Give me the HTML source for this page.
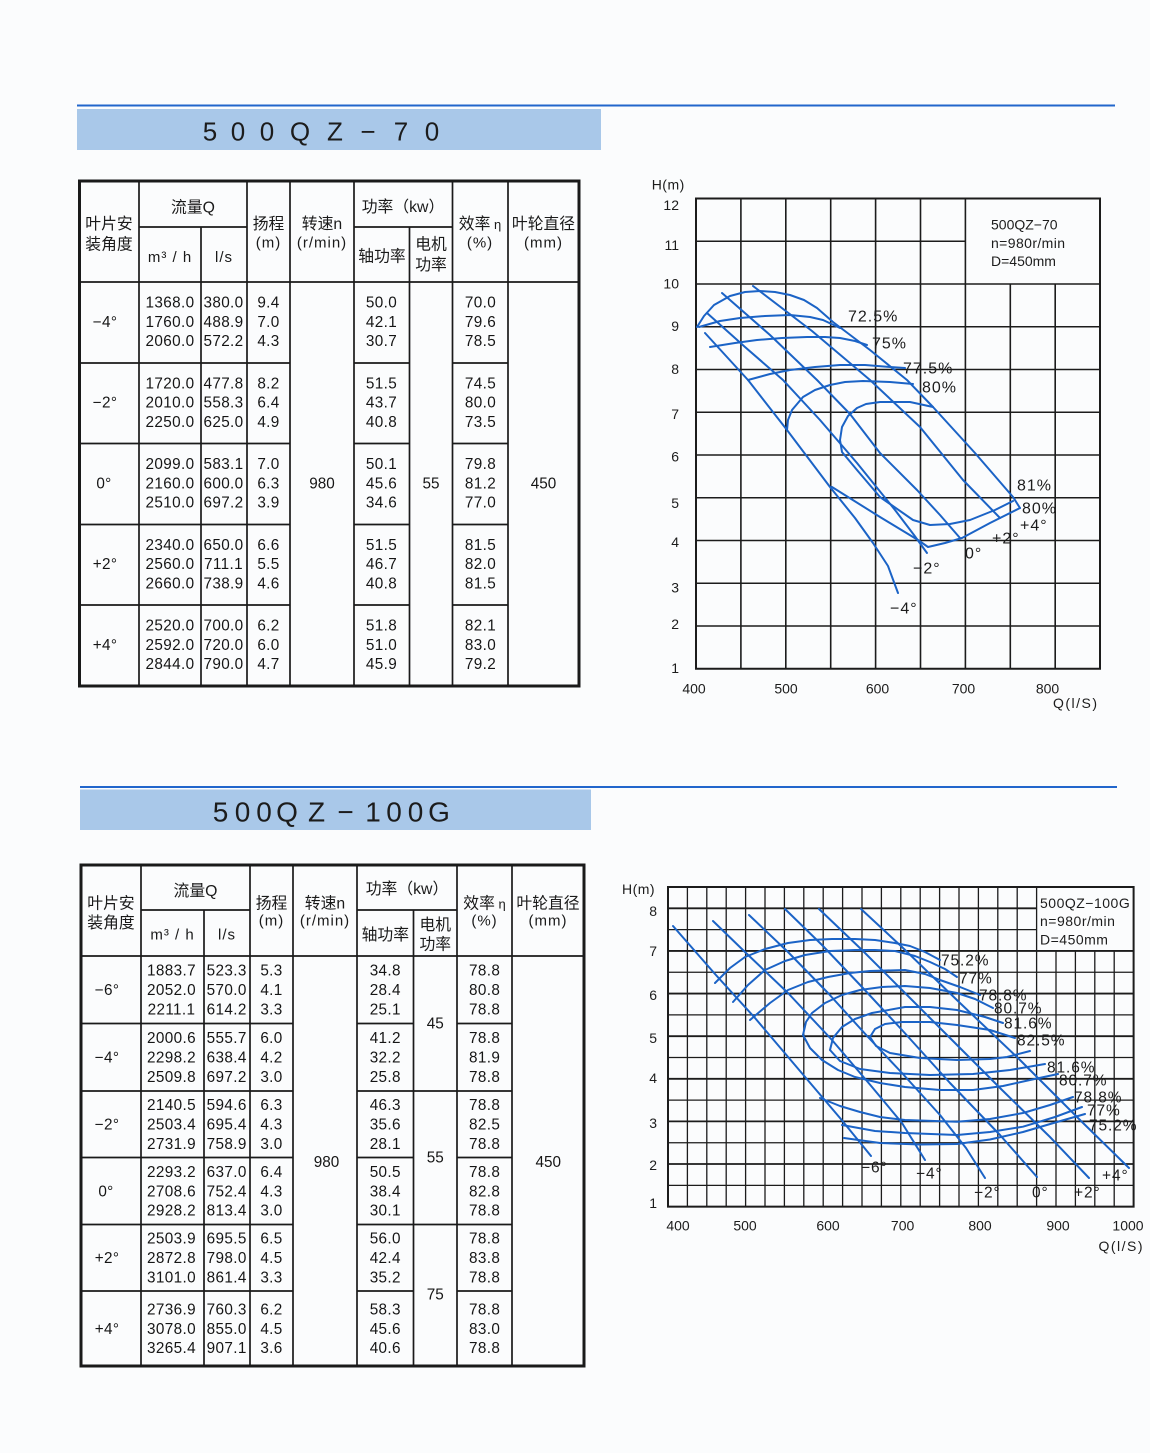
<!DOCTYPE html>
<html>
<head>
<meta charset="utf-8">
<style>
html,body{margin:0;padding:0;background:#fbfcfd;}
svg{display:block;}
.cjk{font-family:"Liberation Sans","Noto Sans CJK SC",sans-serif;}
.lat{font-family:"Liberation Sans",sans-serif;}
</style>
</head>
<body>
<svg width="1150" height="1453" viewBox="0 0 1150 1453" xmlns="http://www.w3.org/2000/svg">
<rect width="1150" height="1453" fill="#fbfcfd"/>

<!-- ===== Section 1 header ===== -->
<line x1="77" y1="105.5" x2="1115" y2="105.5" stroke="#2266cc" stroke-width="2"/>
<rect x="77" y="109" width="524" height="41" fill="#a9c8e9"/>
<g class="lat" font-size="26" fill="#1c1c1c" text-anchor="middle">
<text x="210" y="140.5">5</text><text x="238" y="140.5">0</text><text x="267" y="140.5">0</text>
<text x="300" y="140.5">Q</text><text x="335" y="140.5">Z</text><text x="368" y="140.5">−</text>
<text x="401" y="140.5">7</text><text x="432" y="140.5">0</text>
</g>

<!-- ===== Table 1 ===== -->
<rect x="79.5" y="181" width="499.5" height="505" fill="none" stroke="#1a1a1a" stroke-width="3"/>
<path fill="none" stroke="#1a1a1a" stroke-width="1.7" d="
M139,181V686 M201,227V686 M247,181V686 M290,181V686 M354,181V686 M409.5,227V686 M452.5,181V686 M508,181V686
M139,227H247 M354,227H452.5 M79.5,282H579
M79.5,363H290 M354,363H409.5 M452.5,363H508
M79.5,443.5H290 M354,443.5H409.5 M452.5,443.5H508
M79.5,524.5H290 M354,524.5H409.5 M452.5,524.5H508
M79.5,605H290 M354,605H409.5 M452.5,605H508"/>

<g class="cjk" font-size="15.8" fill="#1a1a1a" text-anchor="middle">
<text x="109" y="229">叶片安</text><text x="109" y="249.5">装角度</text>
<text x="193" y="212.5">流量Q</text>
<text x="268.5" y="229">扬程</text>
<text x="322" y="229">转速n</text>
<text x="403" y="212">功率（kw）</text>
<text x="382" y="261.5">轴功率</text>
<text x="431" y="249.5">电机</text><text x="431" y="270">功率</text>
<text x="480" y="229">效率<tspan font-size="13"> η</tspan></text>
<text x="543.5" y="229">叶轮直径</text>
</g>
<g class="lat" font-size="15" fill="#1a1a1a" text-anchor="middle" letter-spacing="1">
<text x="268.5" y="247.5">(m)</text>
<text x="322" y="247.5">(r/min)</text>
<text x="480" y="247.5">(%)</text>
<text x="543.5" y="247.5">(mm)</text>
<text x="170" y="262">m³ / h</text>
<text x="224" y="262">l/s</text>
</g>

<g class="lat" font-size="15.3" fill="#151515" text-anchor="middle" letter-spacing="0.35">
<text x="105" y="326.9">−4°</text>
<text x="105" y="407.6">−2°</text>
<text x="104" y="488.4">0°</text>
<text x="105" y="569.2">+2°</text>
<text x="105" y="649.9">+4°</text>
<text y="307.6"><tspan x="170">1368.0</tspan><tspan x="170" dy="19.3">1760.0</tspan><tspan x="170" dy="19.3">2060.0</tspan></text>
<text y="388.4"><tspan x="170">1720.0</tspan><tspan x="170" dy="19.3">2010.0</tspan><tspan x="170" dy="19.3">2250.0</tspan></text>
<text y="469.1"><tspan x="170">2099.0</tspan><tspan x="170" dy="19.3">2160.0</tspan><tspan x="170" dy="19.3">2510.0</tspan></text>
<text y="549.9"><tspan x="170">2340.0</tspan><tspan x="170" dy="19.3">2560.0</tspan><tspan x="170" dy="19.3">2660.0</tspan></text>
<text y="630.6"><tspan x="170">2520.0</tspan><tspan x="170" dy="19.3">2592.0</tspan><tspan x="170" dy="19.3">2844.0</tspan></text>
<text y="307.6"><tspan x="223.5">380.0</tspan><tspan x="223.5" dy="19.3">488.9</tspan><tspan x="223.5" dy="19.3">572.2</tspan></text>
<text y="388.4"><tspan x="223.5">477.8</tspan><tspan x="223.5" dy="19.3">558.3</tspan><tspan x="223.5" dy="19.3">625.0</tspan></text>
<text y="469.1"><tspan x="223.5">583.1</tspan><tspan x="223.5" dy="19.3">600.0</tspan><tspan x="223.5" dy="19.3">697.2</tspan></text>
<text y="549.9"><tspan x="223.5">650.0</tspan><tspan x="223.5" dy="19.3">711.1</tspan><tspan x="223.5" dy="19.3">738.9</tspan></text>
<text y="630.6"><tspan x="223.5">700.0</tspan><tspan x="223.5" dy="19.3">720.0</tspan><tspan x="223.5" dy="19.3">790.0</tspan></text>
<text y="307.6"><tspan x="268.5">9.4</tspan><tspan x="268.5" dy="19.3">7.0</tspan><tspan x="268.5" dy="19.3">4.3</tspan></text>
<text y="388.4"><tspan x="268.5">8.2</tspan><tspan x="268.5" dy="19.3">6.4</tspan><tspan x="268.5" dy="19.3">4.9</tspan></text>
<text y="469.1"><tspan x="268.5">7.0</tspan><tspan x="268.5" dy="19.3">6.3</tspan><tspan x="268.5" dy="19.3">3.9</tspan></text>
<text y="549.9"><tspan x="268.5">6.6</tspan><tspan x="268.5" dy="19.3">5.5</tspan><tspan x="268.5" dy="19.3">4.6</tspan></text>
<text y="630.6"><tspan x="268.5">6.2</tspan><tspan x="268.5" dy="19.3">6.0</tspan><tspan x="268.5" dy="19.3">4.7</tspan></text>
<text y="307.6"><tspan x="381.5">50.0</tspan><tspan x="381.5" dy="19.3">42.1</tspan><tspan x="381.5" dy="19.3">30.7</tspan></text>
<text y="388.4"><tspan x="381.5">51.5</tspan><tspan x="381.5" dy="19.3">43.7</tspan><tspan x="381.5" dy="19.3">40.8</tspan></text>
<text y="469.1"><tspan x="381.5">50.1</tspan><tspan x="381.5" dy="19.3">45.6</tspan><tspan x="381.5" dy="19.3">34.6</tspan></text>
<text y="549.9"><tspan x="381.5">51.5</tspan><tspan x="381.5" dy="19.3">46.7</tspan><tspan x="381.5" dy="19.3">40.8</tspan></text>
<text y="630.6"><tspan x="381.5">51.8</tspan><tspan x="381.5" dy="19.3">51.0</tspan><tspan x="381.5" dy="19.3">45.9</tspan></text>
<text y="307.6"><tspan x="480.5">70.0</tspan><tspan x="480.5" dy="19.3">79.6</tspan><tspan x="480.5" dy="19.3">78.5</tspan></text>
<text y="388.4"><tspan x="480.5">74.5</tspan><tspan x="480.5" dy="19.3">80.0</tspan><tspan x="480.5" dy="19.3">73.5</tspan></text>
<text y="469.1"><tspan x="480.5">79.8</tspan><tspan x="480.5" dy="19.3">81.2</tspan><tspan x="480.5" dy="19.3">77.0</tspan></text>
<text y="549.9"><tspan x="480.5">81.5</tspan><tspan x="480.5" dy="19.3">82.0</tspan><tspan x="480.5" dy="19.3">81.5</tspan></text>
<text y="630.6"><tspan x="480.5">82.1</tspan><tspan x="480.5" dy="19.3">83.0</tspan><tspan x="480.5" dy="19.3">79.2</tspan></text>
<text x="322" y="488.7" letter-spacing="0">980</text>
<text x="431" y="488.7" letter-spacing="0">55</text>
<text x="543.5" y="488.7" letter-spacing="0">450</text>
</g>

<!-- ===== Chart 1 ===== -->
<g fill="none" stroke="#1c1c1c">
<rect x="696" y="198.5" width="404" height="470.25" stroke-width="2"/>
<path stroke-width="1.6" d="M740.9,198.5V668.75 M785.8,198.5V668.75 M830.7,198.5V668.75 M875.6,198.5V668.75 M920.5,198.5V668.75 M965.4,198.5V668.75 M1010.3,284V668.75 M1055.2,284V668.75
M696,241.25H965.4 M696,284H1100 M696,326.75H1100 M696,369.5H1100 M696,412.25H1100 M696,455H1100 M696,497.75H1100 M696,540.5H1100 M696,583.25H1100 M696,626H1100"/>
</g>
<g fill="none" stroke="#1b63c6" stroke-width="2" stroke-linejoin="round" stroke-linecap="round">
<polyline points="705,333 748,380 787,430 830,487 855,518 873,543 888,566 898,593"/>
<polyline points="707,313 745,347 783,380 820,420 857,463 895,510 914,535 927,553"/>
<polyline points="722,293 770,335 817,380 850,414 880,453 917,490 940,515 960,538"/>
<polyline points="753,286 812,331 870,380 920,427 963,480 1000,518"/>
<polyline points="697,327 704,316 714,305 730,296 745,292 760,291 775,292 790,295 804,300 817,308 833,322 870,350 907,380 933,407 975,453 1013,497 1020,508"/>
<polyline points="1020,508 990,523 962,538 945,543 928,547 918,540 880,517 832,487"/>
<polyline points="699,327 720,321 740,318 765,316 790,315 810,317 823,320 840,328"/>
<polyline points="710,347 735,343 757,340 782,338 807,337 825,337 840,338 855,341 867,345"/>
<polyline points="748,380 770,374 790,370 815,367 840,365 865,365 890,367 905,368"/>
<polyline points="787,430 788,420 792,410 803,397 815,390 830,385 845,382 863,381 890,382 913,384"/>
<polyline points="933,407 910,402 880,402 866,404 857,408 848,416 842,427 840,440 842,452 857,470 880,497 913,520 930,525 950,524 970,520 995,510 1013,501"/>
</g>
<g class="lat" fill="#1c1c1c" font-size="14">
<text x="651.7" y="189.5" letter-spacing="0.5">H(m)</text>
<g text-anchor="end">
<text x="679" y="210">12</text><text x="679" y="250">11</text><text x="679" y="288.5">10</text>
<text x="679" y="331">9</text><text x="679" y="374">8</text><text x="679" y="419">7</text>
<text x="679" y="461.5">6</text><text x="679" y="508">5</text><text x="679" y="547">4</text>
<text x="679" y="592.5">3</text><text x="679" y="629">2</text><text x="679" y="673">1</text>
</g>
<g text-anchor="middle">
<text x="694" y="693.5">400</text><text x="786" y="693.5">500</text><text x="877.5" y="693.5">600</text>
<text x="963.5" y="693.5">700</text><text x="1047.5" y="693.5">800</text>
</g>
<text x="1053" y="708" letter-spacing="1.5">Q(l/S)</text>
<g font-size="14">
<text x="991" y="229.5">500QZ−70</text>
<text x="991" y="248" letter-spacing="0.4">n=980r/min</text>
<text x="991" y="266">D=450mm</text>
</g>
<g font-size="16" letter-spacing="1">
<text x="848" y="321.5">72.5%</text>
<text x="872" y="348.5">75%</text>
<text x="903" y="373.5">77.5%</text>
<text x="922" y="392.5">80%</text>
<text x="1017" y="490.5">81%</text>
<text x="1022" y="513.5">80%</text>
<text x="1020" y="530.5">+4°</text>
<text x="992" y="543.5">+2°</text>
<text x="965" y="558.5">0°</text>
<text x="913" y="573.5">−2°</text>
<text x="890" y="613.5">−4°</text>
</g>
</g>

<!-- ===== Section 2 header ===== -->
<line x1="80" y1="787" x2="1117" y2="787" stroke="#2266cc" stroke-width="2"/>
<rect x="80" y="789.5" width="511" height="40.5" fill="#a9c8e9"/>
<g class="lat" font-size="28" fill="#1c1c1c" text-anchor="middle">
<text x="220.5" y="821.5">5</text><text x="242.5" y="821.5">0</text><text x="264" y="821.5">0</text>
<text x="287" y="821.5">Q</text><text x="316.5" y="821.5">Z</text><text x="345.5" y="821.5">−</text>
<text x="373" y="821.5">1</text><text x="394" y="821.5">0</text><text x="415.5" y="821.5">0</text>
<text x="439" y="821.5">G</text>
</g>

<!-- ===== Table 2 ===== -->
<rect x="81" y="865" width="503" height="501" fill="none" stroke="#1a1a1a" stroke-width="3"/>
<path fill="none" stroke="#1a1a1a" stroke-width="1.7" d="
M141,865V1366 M204,910V1366 M250,865V1366 M293,865V1366 M357,865V1366 M413.5,910V1366 M457,865V1366 M512,865V1366
M141,910H250 M357,910H457 M81,956H584
M81,1023.5H293 M357,1023.5H413.5 M457,1023.5H512
M81,1091H293 M357,1091H512
M81,1157.5H293 M357,1157.5H413.5 M457,1157.5H512
M81,1224.5H293 M357,1224.5H512
M81,1291H293 M357,1291H413.5 M457,1291H512"/>

<g class="cjk" font-size="15.8" fill="#1a1a1a" text-anchor="middle">
<text x="111" y="908.5">叶片安</text><text x="111" y="928">装角度</text>
<text x="195.5" y="896">流量Q</text>
<text x="271.5" y="908.5">扬程</text>
<text x="325" y="908.5">转速n</text>
<text x="407" y="894">功率（kw）</text>
<text x="385.3" y="940">轴功率</text>
<text x="435.3" y="930">电机</text><text x="435.3" y="949.5">功率</text>
<text x="484.5" y="908.5">效率<tspan font-size="13"> η</tspan></text>
<text x="548" y="908.5">叶轮直径</text>
</g>
<g class="lat" font-size="15" fill="#1a1a1a" text-anchor="middle" letter-spacing="1">
<text x="271.5" y="925.5">(m)</text>
<text x="325" y="925.5">(r/min)</text>
<text x="484.5" y="925.5">(%)</text>
<text x="548" y="925.5">(mm)</text>
<text x="172.5" y="939.5">m³ / h</text>
<text x="227" y="939.5">l/s</text>
</g>

<g class="lat" font-size="15.3" fill="#151515" text-anchor="middle" letter-spacing="0.35">
<text x="107" y="995.2">−6°</text>
<text x="107" y="1062.7">−4°</text>
<text x="107" y="1129.7">−2°</text>
<text x="106" y="1196.4">0°</text>
<text x="107" y="1263.2">+2°</text>
<text x="107" y="1333.9">+4°</text>
<text y="975.7"><tspan x="171.5">1883.7</tspan><tspan x="171.5" dy="19.4">2052.0</tspan><tspan x="171.5" dy="19.4">2211.1</tspan></text>
<text y="1043.2"><tspan x="171.5">2000.6</tspan><tspan x="171.5" dy="19.4">2298.2</tspan><tspan x="171.5" dy="19.4">2509.8</tspan></text>
<text y="1110.2"><tspan x="171.5">2140.5</tspan><tspan x="171.5" dy="19.4">2503.4</tspan><tspan x="171.5" dy="19.4">2731.9</tspan></text>
<text y="1176.9"><tspan x="171.5">2293.2</tspan><tspan x="171.5" dy="19.4">2708.6</tspan><tspan x="171.5" dy="19.4">2928.2</tspan></text>
<text y="1243.7"><tspan x="171.5">2503.9</tspan><tspan x="171.5" dy="19.4">2872.8</tspan><tspan x="171.5" dy="19.4">3101.0</tspan></text>
<text y="1314.4"><tspan x="171.5">2736.9</tspan><tspan x="171.5" dy="19.4">3078.0</tspan><tspan x="171.5" dy="19.4">3265.4</tspan></text>
<text y="975.7"><tspan x="226.7">523.3</tspan><tspan x="226.7" dy="19.4">570.0</tspan><tspan x="226.7" dy="19.4">614.2</tspan></text>
<text y="1043.2"><tspan x="226.7">555.7</tspan><tspan x="226.7" dy="19.4">638.4</tspan><tspan x="226.7" dy="19.4">697.2</tspan></text>
<text y="1110.2"><tspan x="226.7">594.6</tspan><tspan x="226.7" dy="19.4">695.4</tspan><tspan x="226.7" dy="19.4">758.9</tspan></text>
<text y="1176.9"><tspan x="226.7">637.0</tspan><tspan x="226.7" dy="19.4">752.4</tspan><tspan x="226.7" dy="19.4">813.4</tspan></text>
<text y="1243.7"><tspan x="226.7">695.5</tspan><tspan x="226.7" dy="19.4">798.0</tspan><tspan x="226.7" dy="19.4">861.4</tspan></text>
<text y="1314.4"><tspan x="226.7">760.3</tspan><tspan x="226.7" dy="19.4">855.0</tspan><tspan x="226.7" dy="19.4">907.1</tspan></text>
<text y="975.7"><tspan x="271.5">5.3</tspan><tspan x="271.5" dy="19.4">4.1</tspan><tspan x="271.5" dy="19.4">3.3</tspan></text>
<text y="1043.2"><tspan x="271.5">6.0</tspan><tspan x="271.5" dy="19.4">4.2</tspan><tspan x="271.5" dy="19.4">3.0</tspan></text>
<text y="1110.2"><tspan x="271.5">6.3</tspan><tspan x="271.5" dy="19.4">4.3</tspan><tspan x="271.5" dy="19.4">3.0</tspan></text>
<text y="1176.9"><tspan x="271.5">6.4</tspan><tspan x="271.5" dy="19.4">4.3</tspan><tspan x="271.5" dy="19.4">3.0</tspan></text>
<text y="1243.7"><tspan x="271.5">6.5</tspan><tspan x="271.5" dy="19.4">4.5</tspan><tspan x="271.5" dy="19.4">3.3</tspan></text>
<text y="1314.4"><tspan x="271.5">6.2</tspan><tspan x="271.5" dy="19.4">4.5</tspan><tspan x="271.5" dy="19.4">3.6</tspan></text>
<text y="975.7"><tspan x="385.3">34.8</tspan><tspan x="385.3" dy="19.4">28.4</tspan><tspan x="385.3" dy="19.4">25.1</tspan></text>
<text y="1043.2"><tspan x="385.3">41.2</tspan><tspan x="385.3" dy="19.4">32.2</tspan><tspan x="385.3" dy="19.4">25.8</tspan></text>
<text y="1110.2"><tspan x="385.3">46.3</tspan><tspan x="385.3" dy="19.4">35.6</tspan><tspan x="385.3" dy="19.4">28.1</tspan></text>
<text y="1176.9"><tspan x="385.3">50.5</tspan><tspan x="385.3" dy="19.4">38.4</tspan><tspan x="385.3" dy="19.4">30.1</tspan></text>
<text y="1243.7"><tspan x="385.3">56.0</tspan><tspan x="385.3" dy="19.4">42.4</tspan><tspan x="385.3" dy="19.4">35.2</tspan></text>
<text y="1314.4"><tspan x="385.3">58.3</tspan><tspan x="385.3" dy="19.4">45.6</tspan><tspan x="385.3" dy="19.4">40.6</tspan></text>
<text y="975.7"><tspan x="484.6">78.8</tspan><tspan x="484.6" dy="19.4">80.8</tspan><tspan x="484.6" dy="19.4">78.8</tspan></text>
<text y="1043.2"><tspan x="484.6">78.8</tspan><tspan x="484.6" dy="19.4">81.9</tspan><tspan x="484.6" dy="19.4">78.8</tspan></text>
<text y="1110.2"><tspan x="484.6">78.8</tspan><tspan x="484.6" dy="19.4">82.5</tspan><tspan x="484.6" dy="19.4">78.8</tspan></text>
<text y="1176.9"><tspan x="484.6">78.8</tspan><tspan x="484.6" dy="19.4">82.8</tspan><tspan x="484.6" dy="19.4">78.8</tspan></text>
<text y="1243.7"><tspan x="484.6">78.8</tspan><tspan x="484.6" dy="19.4">83.8</tspan><tspan x="484.6" dy="19.4">78.8</tspan></text>
<text y="1314.4"><tspan x="484.6">78.8</tspan><tspan x="484.6" dy="19.4">83.0</tspan><tspan x="484.6" dy="19.4">78.8</tspan></text>
<text x="326.5" y="1167" letter-spacing="0">980</text>
<text x="435.3" y="1028.5" letter-spacing="0">45</text>
<text x="435.3" y="1162.5" letter-spacing="0">55</text>
<text x="435.3" y="1299.5" letter-spacing="0">75</text>
<text x="548.3" y="1167" letter-spacing="0">450</text>
</g>

<!-- ===== Chart 2 ===== -->
<g fill="none" stroke="#1c1c1c">
<path stroke-width="1.3" d="M687.4,887V1206.65 M706.8,887V1206.65 M726.2,887V1206.65 M745.6,887V1206.65 M765,887V1206.65 M784.4,887V1206.65 M803.8,887V1206.65 M823.2,887V1206.65 M842.6,887V1206.65 M862,887V1206.65 M881.4,887V1206.65 M900.8,887V1206.65 M920.2,887V1206.65 M939.6,887V1206.65 M959,887V1206.65 M978.4,887V1206.65 M997.8,887V1206.65 M1017.2,887V1206.65 M1036.6,887V1206.65 M1056,950.93V1206.65 M1075.4,950.93V1206.65 M1094.8,950.93V1206.65 M1114.2,950.93V1206.65
M668,929.62H1036.6 M668,972.24H1133.6 M668,1014.86H1133.6 M668,1057.48H1133.6 M668,1100.1H1133.6 M668,1142.72H1133.6 M668,1185.34H1133.6"/>
<path stroke-width="1.8" d="M668,908.31H1036.6 M668,950.93H1133.6 M668,993.55H1133.6 M668,1036.17H1133.6 M668,1078.79H1133.6 M668,1121.41H1133.6 M668,1164.03H1133.6"/>
<rect x="668" y="887" width="465.6" height="319.65" stroke-width="2"/>
</g>
<g fill="none" stroke="#1b63c6" stroke-width="2" stroke-linejoin="round" stroke-linecap="round">
<polyline points="673,926 715,974 755,1018 800,1071 840,1118 871,1156"/>
<polyline points="713,921 745,952 788,993 832,1040 872,1087 902,1123 925,1160"/>
<polyline points="749,915 788,952 828,993 868,1037 902,1073 940,1115 966,1148 985,1178"/>
<polyline points="785,909 822,945 862,987 902,1030 950,1083 1000,1135 1037,1177"/>
<polyline points="819,909 862,950 902,990 950,1038 1000,1088 1050,1137 1089,1178"/>
<polyline points="861,909 902,947 960,1003 1020,1060 1080,1120 1129,1168"/>
<polyline points="715,983 730,968 745,957 765,949 788,943 810,940 832,939 855,939 875,940 895,943 910,946 925,952 940,960"/>
<polyline points="844,1138 880,1143 920,1144.5 957,1144 990,1139.5 1023,1132 1057,1122 1085,1114"/>
<polyline points="733,1002 748,985 765,970 785,961 805,955 830,951 855,950 875,950 895,951 915,956 930,962 945,969 957,977"/>
<polyline points="842,1125 875,1131 905,1133 957,1135 990,1132 1023,1126.7 1055,1117 1082,1107"/>
<polyline points="750,1020 770,1003 788,990 808,982 828,977 850,973 870,971 905,970 925,974 940,980 960,987 980,995"/>
<polyline points="820,1098 840,1106 860,1112 880,1117 905,1120 957,1121.7 990,1119 1023,1113 1050,1105 1073,1097"/>
<polyline points="803,1035 806,1022 812,1013 825,1003 842,995 860,990 882,987 905,986 930,988 957,993 975,999 993,1008"/>
<polyline points="803,1035 810,1048 822,1060 838,1070 855,1077 880,1083 905,1087 940,1090 973,1090 1003,1086 1030,1080 1058,1074"/>
<polyline points="830,1050 833,1038 842,1027 855,1019 872,1013 905,1007 930,1007 957,1010 985,1017 1003,1023"/>
<polyline points="830,1050 840,1061 860,1069 890,1073 930,1075 973,1074 1010,1070 1045,1064"/>
<polyline points="870,1037 875,1029 885,1024 902,1022 930,1022 957,1025 990,1030 1015,1038"/>
<polyline points="870,1037 876,1046 890,1053 920,1058 957,1060 990,1059 1007,1057 1030,1051"/>
</g>
<g class="lat" fill="#1c1c1c" font-size="14">
<text x="622" y="894" letter-spacing="0.5">H(m)</text>
<g text-anchor="end">
<text x="657" y="916">8</text><text x="657" y="956">7</text><text x="657" y="1000">6</text>
<text x="657" y="1043">5</text><text x="657" y="1083">4</text><text x="657" y="1128">3</text>
<text x="657" y="1170">2</text><text x="657" y="1208">1</text>
</g>
<g text-anchor="middle">
<text x="678" y="1230.5">400</text><text x="745" y="1230.5">500</text><text x="828" y="1230.5">600</text>
<text x="902.6" y="1230.5">700</text><text x="980" y="1230.5">800</text><text x="1058" y="1230.5">900</text>
<text x="1128" y="1230.5">1000</text>
</g>
<text x="1098.5" y="1251" letter-spacing="1.5">Q(l/S)</text>
<g font-size="14" letter-spacing="0.5">
<text x="1040" y="908">500QZ−100G</text>
<text x="1040" y="926">n=980r/min</text>
<text x="1040" y="944.5">D=450mm</text>
</g>
<g font-size="15.5" letter-spacing="0.9">
<text x="941" y="965.5">75.2%</text>
<text x="959" y="983.5">77%</text>
<text x="979" y="1000.5">78.8%</text>
<text x="994" y="1013.5">80.7%</text>
<text x="1004" y="1028.5">81.6%</text>
<text x="1017" y="1045.5">82.5%</text>
<text x="1047" y="1072.5">81.6%</text>
<text x="1059" y="1085.5">80.7%</text>
<text x="1074" y="1102.5">78.8%</text>
<text x="1087" y="1115.5">77%</text>
<text x="1089" y="1130.5">75.2%</text>
<text x="861" y="1172.5">−6°</text>
<text x="916" y="1178.5">−4°</text>
<text x="974" y="1197.5">−2°</text>
<text x="1032" y="1197.5">0°</text>
<text x="1074" y="1197.5">+2°</text>
<text x="1102" y="1180.5">+4°</text>
</g>
</g>
</svg>
</body>
</html>
